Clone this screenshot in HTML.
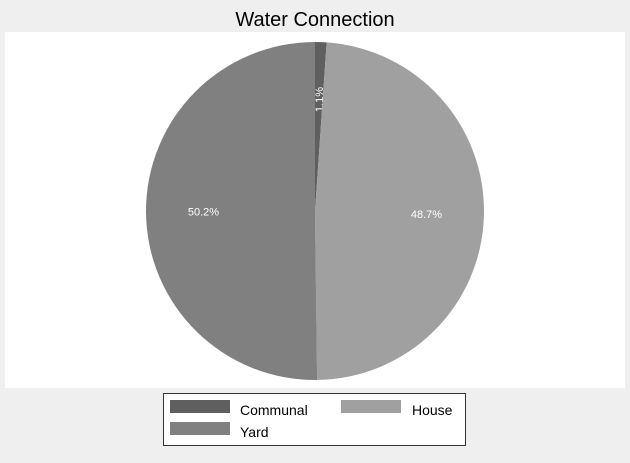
<!DOCTYPE html>
<html><head><meta charset="utf-8"><style>
body{margin:0;width:630px;height:458px;background:#efefef;overflow:hidden;font-family:"Liberation Sans",sans-serif}
</style></head><body>
<svg id="c" width="630" height="458">
<text x="315" y="26" text-anchor="middle" font-size="20" fill="#000">Water Connection</text>
<rect x="5" y="32" width="620" height="356" fill="#fff"/>
<g id="pie"></g>
<rect x="163.5" y="393.5" width="302" height="52" fill="#fff" stroke="#333"/>
<g id="leg"></g>
</svg>
<script>
const categories=["Communal","House","Yard"];
const values=[1.1,48.7,50.2];
const colors=["#5f5f5f","#a0a0a0","#808080"];
const ns="http://www.w3.org/2000/svg";
const cx=315,cy=211,r=169;
const pie=document.getElementById('pie');
const total=values.reduce((a,b)=>a+b,0);
let a0=0;
values.forEach((v,i)=>{
  const a1=a0+v/total*2*Math.PI;
  const p=a=>[cx+r*Math.sin(a),cy-r*Math.cos(a)];
  const [x0,y0]=p(a0),[x1,y1]=p(a1);
  const path=document.createElementNS(ns,'path');
  path.setAttribute('d',`M${cx},${cy}L${x0},${y0}A${r},${r} 0 ${a1-a0>Math.PI?1:0} 1 ${x1},${y1}Z`);
  path.setAttribute('fill',colors[i]);
  
  
  pie.appendChild(path);
  const am=(a0+a1)/2,lr=r*0.66;
  const lx=cx+lr*Math.sin(am),ly=cy-lr*Math.cos(am);
  const t=document.createElementNS(ns,'text');
  t.setAttribute('x',lx);t.setAttribute('y',ly+4);
  t.setAttribute('text-anchor','middle');t.setAttribute('font-size','11');t.setAttribute('fill','#fff');
  if(v/total<0.05){t.setAttribute('transform',`rotate(-90 ${lx} ${ly})`);}
  t.textContent=v.toFixed(1)+'%';
  
  
  pie.appendChild(t);
  a0=a1;
});
const leg=document.getElementById('leg');
const pos=[[170,400],[341,400],[170,422]];
const tx=[240,412,240];
categories.forEach((c,i)=>{
  const s=document.createElementNS(ns,'rect');
  s.setAttribute('x',pos[i][0]);s.setAttribute('y',pos[i][1]);s.setAttribute('width',60);s.setAttribute('height',13);
  s.setAttribute('fill',colors[i]);
  
  
  leg.appendChild(s);
  const t=document.createElementNS(ns,'text');
  t.setAttribute('x',tx[i]);t.setAttribute('y',pos[i][1]+15);t.setAttribute('font-size','14');
  t.textContent=c;
  
  
  leg.appendChild(t);
});
</script>
</body></html>
